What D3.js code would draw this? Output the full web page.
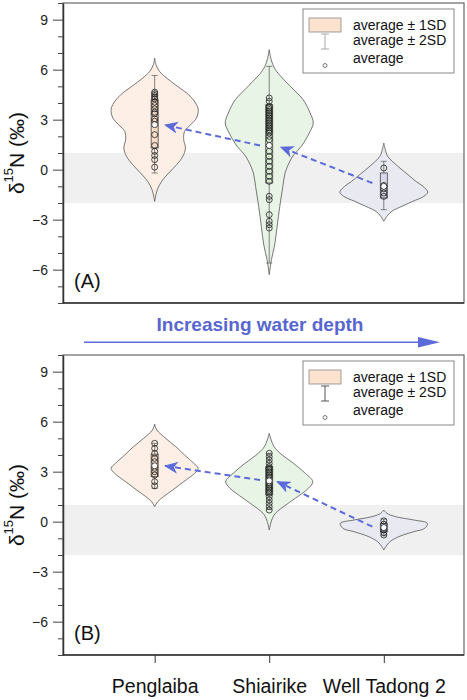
<!DOCTYPE html>
<html>
<head>
<meta charset="utf-8">
<script src="https://cdn.jsdelivr.net/npm/d3@7"></script>
<style>
body {margin:0; background:#fff;}
text {font-family:"Liberation Sans", Arial, sans-serif;}
</style>
</head>
<body>
<svg></svg>
<script>
// categories and ticks
var groupPos = [1, 2, 3];
var groupNames = ["Penglaiba", "Shiairike", "Well Tadong 2"];
var yTicks = [-6, -3, 0, 3, 6, 9];
var yMinor = [-8, -7, -5, -4, -2, -1, 1, 2, 4, 5, 7, 8, 10];
var bandRange = [-2, 1];
var legendLabels = ["average \u00b1 1SD", "average \u00b1 2SD", "average"];

// panel A : measured values
var pengA = [4.65, 4.55, 4.45, 4.35, 4.25, 4.05, 3.85, 3.65, 3.45, 3.35, 3.05, 2.9, 2.1, 1.45, 1.1, 0.85, 0.6, 0.15];
var shiaA = [4.3, 4.1, 3.8, 3.7, 3.6, 3.5, 3.4, 3.3, 3.2, 3.1, 3.0, 2.9, 2.8, 2.7, 2.6, 2.5, 2.4, 2.3, 2.2, 2.0, 1.8, 1.1, 0.8, 0.5, 0.2, -0.1, -0.4, -0.7, -1.6, -1.8, -2.7, -3.1, -3.3, -3.5];
var tadA = [0.1, -0.95, -1.15, -1.4, -1.6];
var meanA = [2.7, 1.45, -1.0];
var sd1LowA = [1.3, -0.8, -1.7];
var sd1HighA = [4.2, 3.9, -0.2];
var sd2LowA = [-0.2, -5.6, -2.4];
var sd2HighA = [5.65, 6.2, 0.5];
// violin outlines: [value, relative density]
var pengViolinA = [[6.7,0],[6.3,0.03],[5.9,0.11],[5.5,0.27],[5.0,0.52],[4.5,0.77],[4.0,0.93],[3.6,0.99],[3.1,0.95],[2.7,0.82],[2.3,0.68],[1.8,0.66],[1.3,0.7],[0.8,0.64],[0.3,0.5],[-0.2,0.32],[-0.7,0.16],[-1.2,0.06],[-1.9,0]];
var shiaViolinA = [[7.2,0],[6.6,0.045],[6.0,0.14],[5.0,0.48],[4.2,0.77],[3.4,0.93],[2.8,1],[2.2,0.91],[1.4,0.73],[0.9,0.56],[0.4,0.45],[-0.2,0.36],[-1.0,0.31],[-2.2,0.24],[-3.4,0.18],[-4.5,0.125],[-5.4,0.05],[-6.3,0]];
var tadViolinA = [[1.6,0],[1.2,0.035],[0.8,0.09],[0.2,0.32],[-0.3,0.55],[-0.7,0.73],[-1.0,0.89],[-1.35,1],[-1.6,0.91],[-1.9,0.66],[-2.2,0.41],[-2.5,0.18],[-2.8,0.07],[-3.1,0]];
// dashed trend arrows [fromPos, fromValue, toPos, toValue]
var arrowsA = [[2.9, -0.8, 2.1, 1.35], [1.92, 1.45, 1.09, 2.68]];

// panel B : measured values
var pengB = [4.7, 4.4, 4.1, 3.8, 3.6, 3.2, 3.0, 2.8, 2.4, 2.15];
var shiaB = [4.1, 3.9, 3.7, 3.5, 3.3, 3.2, 3.1, 3.0, 2.9, 2.8, 2.7, 2.6, 2.3, 2.2, 2.1, 2.0, 1.9, 1.8, 1.7, 1.5, 1.3, 1.1, 0.9, 0.7];
var tadB = [0.05, -0.15, -0.5, -0.65, -0.8];
var meanB = [3.35, 2.45, -0.35];
var sd1LowB = [2.7, 1.6, -0.6];
var sd1HighB = [4.05, 3.3, -0.1];
var sd2LowB = [2.0, 0.75, -0.85];
var sd2HighB = [4.7, 4.1, 0.15];
var pengViolinB = [[5.85,0],[5.5,0.05],[5.0,0.25],[4.5,0.48],[4.0,0.68],[3.5,0.89],[3.2,0.99],[2.9,0.91],[2.4,0.66],[1.9,0.41],[1.5,0.2],[1.2,0.07],[0.9,0]];
var shiaViolinB = [[5.3,0],[4.9,0.045],[4.5,0.11],[4.1,0.25],[3.5,0.55],[2.9,0.82],[2.4,0.99],[2.0,0.89],[1.7,0.75],[1.1,0.43],[0.5,0.14],[0.1,0.057],[-0.5,0]];
var tadViolinB = [[0.7,0],[0.5,0.07],[0.3,0.27],[0.1,0.68],[-0.1,0.99],[-0.4,0.93],[-0.6,0.68],[-0.9,0.34],[-1.2,0.14],[-1.5,0.045],[-1.7,0]];
var arrowsB = [[2.9, -0.3, 2.07, 2.4], [1.92, 2.5, 1.09, 3.35]];

var screen = {width: 467, height: 700};
var margins = {left: 63, right: 3};
var plotW = screen.width - margins.left - margins.right;
var plotH = 300;
var violinFill = ["#fdefe5", "#e8f4e5", "#e9e9f2"];
var boxFill = ["#f9dcc7", "#d6ebd2", "#d8d8e8"];
var blue = "#5b6bd9";

var svg = d3.select("svg")
    .attr("width", screen.width)
    .attr("height", screen.height);

var defs = svg.append("defs");
defs.append("marker")
    .attr("id", "stealth")
    .attr("markerUnits", "userSpaceOnUse")
    .attr("markerWidth", 16).attr("markerHeight", 12)
    .attr("refX", 13).attr("refY", 6)
    .attr("orient", "auto")
    .append("path")
    .attr("d", "M0,0 L14,6 L0,12 L4,6 Z")
    .attr("fill", blue);

var xScale = d3.scaleLinear().domain([0.2, 3.7]).range([0, plotW]);
var yScale = d3.scaleLinear().domain([-8, 10]).range([plotH, 0]);
var wScale = d3.scaleLinear().domain([0, 1]).range([0, 44]);

var drawPanel = function(top, panel)
{
    var g = svg.append("g")
        .attr("transform", "translate(" + margins.left + "," + top + ")");

    g.append("rect")
        .attr("x", 0).attr("width", plotW)
        .attr("y", yScale(bandRange[1]))
        .attr("height", yScale(bandRange[0]) - yScale(bandRange[1]))
        .attr("fill", "#f0f0f0");

    // violins
    groupPos.forEach(function(p, i)
    {
        var cx = xScale(p);
        var area = d3.area()
            .y(function(d){return yScale(d[0]);})
            .x0(function(d){return cx - wScale(d[1]);})
            .x1(function(d){return cx + wScale(d[1]);})
            .curve(d3.curveCatmullRom.alpha(0.5));
        g.append("path")
            .attr("d", area(panel.violins[i]))
            .attr("fill", violinFill[i])
            .attr("stroke", "#555")
            .attr("stroke-width", 0.8);

        // 2SD whisker
        g.append("line")
            .attr("x1", cx).attr("x2", cx)
            .attr("y1", yScale(panel.sd2High[i])).attr("y2", yScale(panel.sd2Low[i]))
            .attr("stroke", "#666").attr("stroke-width", 0.8);
        [panel.sd2High[i], panel.sd2Low[i]].forEach(function(v)
        {
            g.append("line")
                .attr("x1", cx - 3).attr("x2", cx + 3)
                .attr("y1", yScale(v)).attr("y2", yScale(v))
                .attr("stroke", "#666").attr("stroke-width", 0.8);
        });

        // 1SD box
        g.append("rect")
            .attr("x", cx - 3.5).attr("width", 7)
            .attr("y", yScale(panel.sd1High[i]))
            .attr("height", yScale(panel.sd1Low[i]) - yScale(panel.sd1High[i]))
            .attr("fill", boxFill[i])
            .attr("stroke", "#444").attr("stroke-width", 0.8);

        g.selectAll(null)
            .data(panel.points[i])
            .enter()
            .append("circle")
            .attr("cx", cx)
            .attr("cy", function(d){return yScale(d);})
            .attr("r", 3)
            .attr("fill", "none")
            .attr("stroke", "#222")
            .attr("stroke-width", 0.8);

        g.append("circle")
            .attr("cx", cx).attr("cy", yScale(panel.mean[i]))
            .attr("r", 3)
            .attr("fill", "#fff")
            .attr("stroke", "#222").attr("stroke-width", 0.8);
    });

    g.selectAll(null)
        .data(panel.arrows)
        .enter()
        .append("line")
        .attr("x1", function(d){return xScale(d[0]);})
        .attr("y1", function(d){return yScale(d[1]);})
        .attr("x2", function(d){return xScale(d[2]);})
        .attr("y2", function(d){return yScale(d[3]);})
        .attr("stroke", blue)
        .attr("stroke-width", 2)
        .attr("stroke-dasharray", "6,4")
        .attr("marker-end", "url(#stealth)");

    // frame
    g.append("rect")
        .attr("width", plotW).attr("height", plotH)
        .attr("fill", "none")
        .attr("stroke", "#666").attr("stroke-width", 1.2);

    var yAxis = g.append("g")
        .call(d3.axisLeft(yScale).tickValues(yTicks).tickSize(10).tickSizeOuter(0)
            .tickPadding(5).tickFormat(d3.format("d")));
    yAxis.selectAll("text").attr("font-size", 14).attr("fill", "#222");
    yAxis.select(".domain").attr("stroke", "#333").attr("stroke-width", 1.5);
    yAxis.selectAll(".tick line").attr("stroke", "#444");

    var yMin = g.append("g")
        .call(d3.axisLeft(yScale).tickValues(yMinor).tickSize(5).tickSizeOuter(0).tickFormat(""));
    yMin.select(".domain").remove();
    yMin.selectAll(".tick line").attr("stroke", "#444");

    g.append("line")
        .attr("x1", 0).attr("x2", plotW)
        .attr("y1", plotH).attr("y2", plotH)
        .attr("stroke", "#333").attr("stroke-width", 1.5);

    if (panel.showX)
    {
        var xAxis = g.append("g")
            .attr("transform", "translate(0," + plotH + ")")
            .call(d3.axisBottom(xScale).tickValues(groupPos).tickSize(8).tickSizeOuter(0)
                .tickPadding(16).tickFormat(function(d){return groupNames[d - 1];}));
        xAxis.select(".domain").remove();
        xAxis.selectAll("text").attr("font-size", 19.5).attr("fill", "#111");
        xAxis.selectAll(".tick line").attr("stroke", "#333");
    }

    var title = g.append("text")
        .attr("transform", "translate(-45," + (plotH / 2) + ") rotate(-90)")
        .attr("text-anchor", "middle")
        .attr("dominant-baseline", "middle")
        .attr("font-size", 21)
        .attr("fill", "#111");
    title.append("tspan").text("\u03b4");
    title.append("tspan").attr("font-size", 13).attr("dy", -8).text("15");
    title.append("tspan").attr("dy", 8).text("N (\u2030)");

    g.append("text")
        .attr("x", 11).attr("y", plotH - 20)
        .attr("dominant-baseline", "middle")
        .attr("font-size", 20)
        .attr("fill", "#111")
        .text(panel.label);

    // legend
    var lg = g.append("g").attr("transform", "translate(240,6)");
    lg.append("rect")
        .attr("width", 151).attr("height", 64)
        .attr("fill", "#fff")
        .attr("stroke", "#888").attr("stroke-width", 1);
    lg.append("rect")
        .attr("x", 6).attr("y", 9).attr("width", 32).attr("height", 14)
        .attr("fill", "#fde3cf").attr("stroke", "#888").attr("stroke-width", 0.8);
    var wc = panel.showX ? "#555" : "#aaa";
    lg.append("line").attr("x1", 22).attr("x2", 22).attr("y1", 25).attr("y2", 40)
        .attr("stroke", wc);
    [25, 40].forEach(function(yy)
    {
        lg.append("line").attr("x1", 18).attr("x2", 26).attr("y1", yy).attr("y2", yy)
            .attr("stroke", wc);
    });
    lg.append("circle").attr("cx", 22).attr("cy", 56.5).attr("r", 2)
        .attr("fill", "none").attr("stroke", "#555").attr("stroke-width", 0.8);
    lg.selectAll(null)
        .data(legendLabels)
        .enter()
        .append("text")
        .attr("x", 50)
        .attr("y", function(d, i){return [17.7, 32.7, 50][i];})
        .attr("dominant-baseline", "middle")
        .attr("font-size", 14)
        .attr("fill", "#111")
        .text(function(d){return d;});
};

drawPanel(3, {
    points: [pengA, shiaA, tadA], mean: meanA,
    sd1Low: sd1LowA, sd1High: sd1HighA, sd2Low: sd2LowA, sd2High: sd2HighA,
    violins: [pengViolinA, shiaViolinA, tadViolinA], arrows: arrowsA,
    label: "(A)", showX: false
});
drawPanel(355, {
    points: [pengB, shiaB, tadB], mean: meanB,
    sd1Low: sd1LowB, sd1High: sd1HighB, sd2Low: sd2LowB, sd2High: sd2HighB,
    violins: [pengViolinB, shiaViolinB, tadViolinB], arrows: arrowsB,
    label: "(B)", showX: true
});

// water depth arrow between panels
svg.append("text")
    .attr("x", 260).attr("y", 326)
    .attr("text-anchor", "middle")
    .attr("dominant-baseline", "middle")
    .attr("font-size", 19)
    .attr("font-weight", "bold")
    .attr("fill", "#5866cf")
    .text("Increasing water depth");
svg.append("line")
    .attr("x1", 84).attr("x2", 420)
    .attr("y1", 342.3).attr("y2", 342.3)
    .attr("stroke", blue).attr("stroke-width", 1.5);
svg.append("path")
    .attr("d", "M418,337 L440,342.3 L418,347.6 Z")
    .attr("fill", blue);
</script>
</body>
</html>
